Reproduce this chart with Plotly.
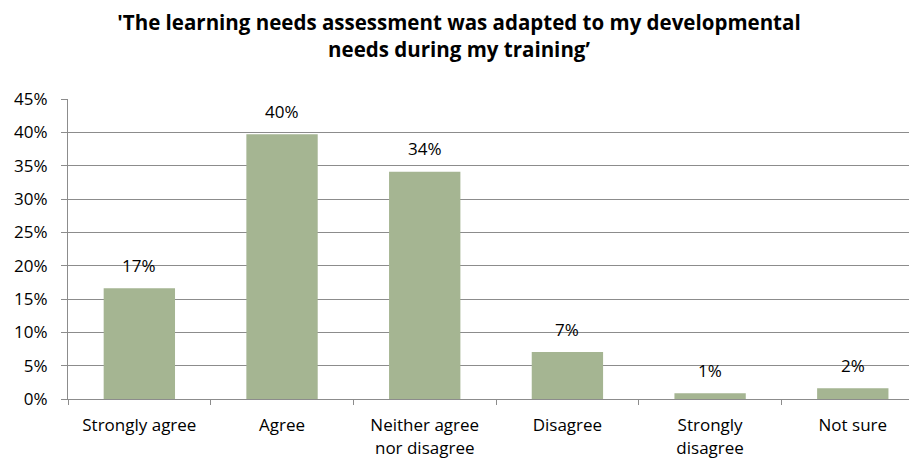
import plotly.graph_objects as go

categories = ["Strongly agree", "Agree", "Neither agree<br>nor disagree", "Disagree", "Strongly<br>disagree", "Not sure"]
values = [16.6, 39.7, 34.1, 7.05, 0.85, 1.6]
labels = ["17%", "40%", "34%", "7%", "1%", "2%"]
y_ticks = [0, 5, 10, 15, 20, 25, 30, 35, 40, 45]
y_tick_text = [f"{v}%" for v in y_ticks]
title_text = "<b>'The learning needs assessment was adapted to my developmental<br>needs during my training’</b>"

FONT = "'Open Sans', sans-serif"
OFF = 8  # default page body margin in the written html
W, H = 917 - OFF, 461 - OFF

fig = go.Figure()
fig.add_trace(go.Bar(x=categories, y=values, marker=dict(color="#A5B592", line=dict(width=0)),
                     hoverinfo="skip"))

for c, v, t in zip(categories, values, labels):
    fig.add_annotation(x=c, y=v, text=t, showarrow=False, yshift=23, yanchor="middle",
                       font=dict(family=FONT, size=17, color="#000000"))

fig.update_layout(
    width=W, height=H,
    paper_bgcolor="white", plot_bgcolor="white",
    margin=dict(l=68 - OFF, r=0, t=99 - OFF, b=62, autoexpand=False),
    bargap=0.5,
    showlegend=False,
    title=dict(text=title_text, x=(459 - OFF) / W, xref="container", xanchor="center",
               y=1 - (30 - OFF) / H, yref="container", yanchor="middle",
               font=dict(family=FONT, size=20.5, color="#000000")),
    font=dict(family=FONT, size=17, color="#000000"),
)
fig.update_yaxes(range=[0, 45], tickvals=y_ticks, ticktext=y_tick_text,
                 showgrid=True, gridcolor="#8C8C8C", gridwidth=1,
                 showline=True, linecolor="#8C8C8C", linewidth=1,
                 ticks="outside", ticklen=6, tickcolor="#8C8C8C",
                 ticklabelstandoff=10, zeroline=False, fixedrange=True)
fig.update_xaxes(range=[-0.5, 5.45], showline=True, linecolor="#8C8C8C", linewidth=1,
                 ticks="outside", tickson="boundaries", ticklen=5, tickcolor="#8C8C8C",
                 ticklabelstandoff=11, showgrid=False, fixedrange=True)

fig.write_html("out.html")
